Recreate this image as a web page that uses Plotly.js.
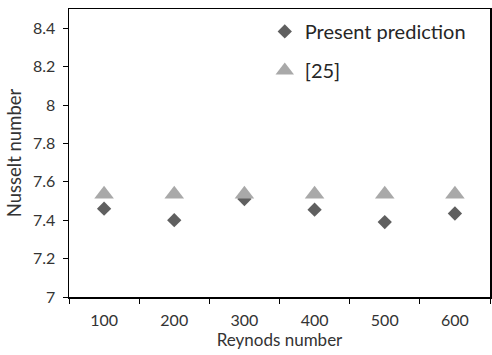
<!DOCTYPE html>
<html><head><meta charset="utf-8">
<script src="https://cdn.plot.ly/plotly-3.0.1.min.js"></script>
<style>html,body{margin:0;padding:0;background:#fff}</style>
</head><body>
<div id="chart" style="width:492px;height:355px"></div>
<script>
const categories = ["100", "200", "300", "400", "500", "600"];
const presentPrediction = [7.46, 7.40, 7.51, 7.455, 7.39, 7.435];
const ref25 = [7.535, 7.535, 7.535, 7.535, 7.535, 7.535];
const yTickVals = [7, 7.2, 7.4, 7.6, 7.8, 8, 8.2, 8.4];
const yTickText = ["7", "7.2", "7.4", "7.6", "7.8", "8", "8.2", "8.4"];

const font = "Lato, 'Open Sans', sans-serif";
const data = [
  {x: categories, y: presentPrediction, type: "scatter", mode: "markers", name: "Present prediction",
   legendgroup: "a", marker: {symbol: "diamond", size: 11, color: "#5f5f5f"}},
  {x: categories, y: ref25, type: "scatter", mode: "markers", name: "[25]",
   legendgroup: "b", marker: {symbol: "triangle-up", size: 17, color: "#a9a9a9"}}
];
const layout = {
  width: 492, height: 355,
  margin: {l: 69, r: 2, t: 9, b: 58},
  paper_bgcolor: "#fff", plot_bgcolor: "#fff",
  font: {family: font, color: "#333333", size: 16},
  showlegend: true,
  legend: {x: 0.465, xanchor: "left", y: 0.99, yanchor: "top", font: {size: 20, color: "#262626"},
           bgcolor: "rgba(0,0,0,0)", traceorder: "grouped", tracegroupgap: 10},
  xaxis: {type: "category", range: [-0.5, 5.5], tickson: "boundaries", ticks: "outside", ticklen: 5,
          tickcolor: "#000", showline: true, linecolor: "#000", linewidth: 1.5, mirror: true,
          showgrid: false, zeroline: false, tickfont: {size: 16}, ticklabelstandoff: 8,
          title: {text: "Reynods number", font: {size: 17}, standoff: 6}},
  yaxis: {range: [7, 8.5], tickvals: yTickVals, ticktext: yTickText, ticks: "outside", ticklen: 5,
          tickcolor: "#000", showline: true, linecolor: "#000", linewidth: 1.5, mirror: true,
          showgrid: false, zeroline: false, tickfont: {size: 16}, ticklabelstandoff: 4,
          title: {text: "Nusselt number", font: {size: 18.5}, standoff: 6}}
};
Plotly.newPlot("chart", data, layout, {displayModeBar: false, staticPlot: true});
</script>
</body></html>
